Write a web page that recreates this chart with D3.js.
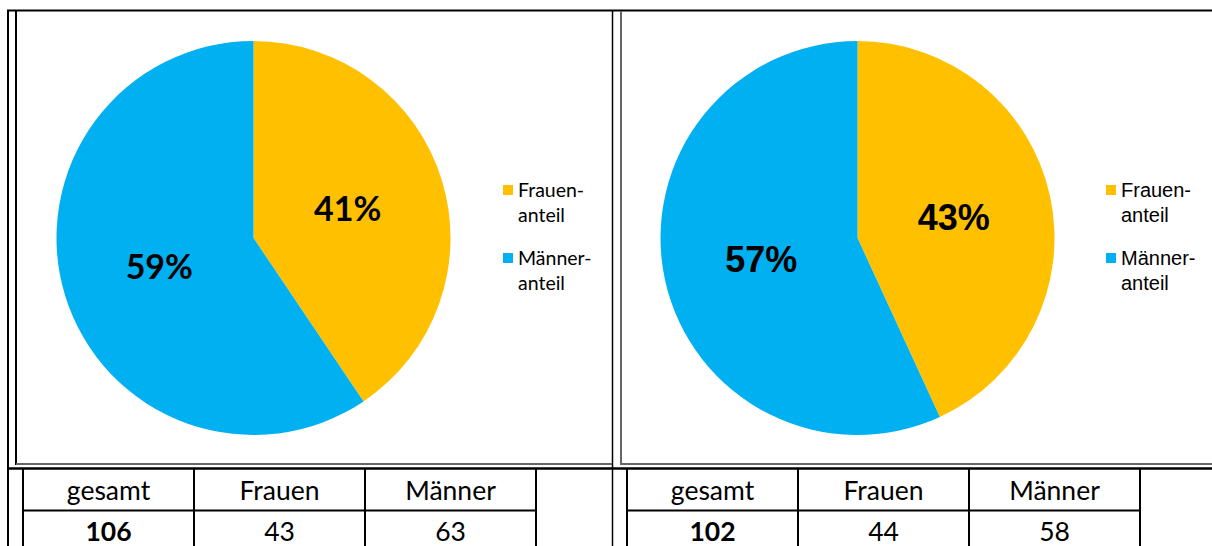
<!DOCTYPE html>
<html lang="de">
<head>
<meta charset="UTF-8">
<title>Frauen- und Männeranteil</title>
<script src="https://cdnjs.cloudflare.com/ajax/libs/d3/7.8.5/d3.min.js"></script>
<style>
  body { margin: 0; background: #fff; }
</style>
</head>
<body>
<script>
// data
var tableHeads = ["gesamt", "Frauen", "Männer"];
var gesamt = [106, 102];
var frauen = [43, 44];
var maenner = [63, 58];
var legendLabels = [["Frauen-", "anteil"], ["Männer-", "anteil"]];
var sliceColors = ["#ffc000", "#00b0f0"];

var width = 1212, height = 546;
var svg = d3.select("body").append("svg")
    .attr("width", width)
    .attr("height", height);

// one panel per pie, left uses a Calibri-like face, right an Arial-like one
var panels = [
    { x0: 16, x1: 612, cx: 253.5, font: "Lato, 'Open Sans', sans-serif", pctSize: 34, legX: 503, legSize: 19.5, tableX: 23 },
    { x0: 621, x1: 1214, cx: 857.5, font: "Liberation Sans, Arial, sans-serif", pctSize: 36, legX: 1106, legSize: 20, tableX: 627 }
];
var cy = 238, radius = 197;
var colW = 171;

var pie = d3.pie().sort(null).value(function (d) { return d; });
var arc = d3.arc().innerRadius(0).outerRadius(radius);

// outer frame lines
svg.append("line").attr("x1", 7).attr("x2", width).attr("y1", 10.5).attr("y2", 10.5)
    .attr("stroke", "#000").attr("stroke-width", 2);
svg.append("line").attr("x1", 8).attr("x2", 8).attr("y1", 10).attr("y2", height)
    .attr("stroke", "#000").attr("stroke-width", 2);
svg.append("line").attr("x1", 612.5).attr("x2", 612.5).attr("y1", 10).attr("y2", height)
    .attr("stroke", "#000").attr("stroke-width", 1.5);
svg.append("line").attr("x1", 7).attr("x2", width).attr("y1", 468.5).attr("y2", 468.5)
    .attr("stroke", "#000").attr("stroke-width", 2.5);

panels.forEach(function (p, i) {
    var g = svg.append("g");

    // chart box
    if (i === 0) {
        g.append("line").attr("x1", 16).attr("x2", 16).attr("y1", 10).attr("y2", 465)
            .attr("stroke", "#000").attr("stroke-width", 2);
    } else {
        g.append("line").attr("x1", 621).attr("x2", 621).attr("y1", 11).attr("y2", 465)
            .attr("stroke", "#666").attr("stroke-width", 2);
    }
    g.append("line").attr("x1", p.x0).attr("x2", p.x1).attr("y1", 464).attr("y2", 464)
        .attr("stroke", "#666").attr("stroke-width", 2);

    var data = [frauen[i], maenner[i]];
    var total = gesamt[i];
    var arcs = pie(data);

    var pg = g.append("g").attr("transform", "translate(" + p.cx + "," + cy + ")");
    pg.selectAll("path")
        .data(arcs)
        .enter()
        .append("path")
        .attr("d", arc)
        .attr("fill", function (d, j) { return sliceColors[j]; });

    pg.selectAll("text")
        .data(arcs)
        .enter()
        .append("text")
        .attr("x", function (d) { return arc.centroid(d)[0]; })
        .attr("y", function (d) { return arc.centroid(d)[1]; })
        .attr("dy", "0.36em")
        .attr("text-anchor", "middle")
        .attr("font-family", p.font)
        .attr("font-weight", "bold")
        .attr("font-size", p.pctSize)
        .attr("fill", "#000")
        .text(function (d) { return Math.round(d.data / total * 100) + "%"; });

    // legend
    var leg = g.selectAll(".leg")
        .data(legendLabels)
        .enter()
        .append("g")
        .attr("transform", function (d, j) { return "translate(" + p.legX + "," + (197 + j * 68) + ")"; });
    leg.append("rect")
        .attr("x", 0).attr("y", -12)
        .attr("width", 10).attr("height", 10)
        .attr("fill", function (d, j) { return sliceColors[j]; });
    leg.append("text")
        .attr("x", 15)
        .attr("font-family", p.font)
        .attr("font-size", p.legSize)
        .attr("fill", "#000")
        .selectAll("tspan")
        .data(function (d) { return d; })
        .enter()
        .append("tspan")
        .attr("x", 15)
        .attr("dy", function (d, k) { return k === 0 ? 0 : 25; })
        .text(function (d) { return d; });

    // table below
    var tx = p.tableX;
    var t = g.append("g");
    t.append("line").attr("x1", tx).attr("x2", tx).attr("y1", 468).attr("y2", height)
        .attr("stroke", "#000").attr("stroke-width", 2);
    tableHeads.forEach(function (h, k) {
        var xr = tx + colW * (k + 1);
        t.append("line").attr("x1", xr).attr("x2", xr).attr("y1", 468).attr("y2", height)
            .attr("stroke", "#000").attr("stroke-width", 2);
    });
    t.append("line").attr("x1", tx).attr("x2", tx + colW * 3).attr("y1", 510.5).attr("y2", 510.5)
        .attr("stroke", "#000").attr("stroke-width", 2);

    var rowVals = [gesamt[i], frauen[i], maenner[i]];
    tableHeads.forEach(function (h, k) {
        var xc = tx + colW * k + colW / 2;
        t.append("text")
            .attr("x", xc).attr("y", 500)
            .attr("text-anchor", "middle")
            .attr("font-family", "Lato, 'Open Sans', sans-serif")
            .attr("font-size", 26.5)
            .text(h);
        t.append("text")
            .attr("x", xc).attr("y", 541)
            .attr("text-anchor", "middle")
            .attr("font-family", "Lato, 'Open Sans', sans-serif")
            .attr("font-size", 26.5)
            .attr("font-weight", k === 0 ? "bold" : "normal")
            .text(rowVals[k]);
    });
});
</script>
</body>
</html>
